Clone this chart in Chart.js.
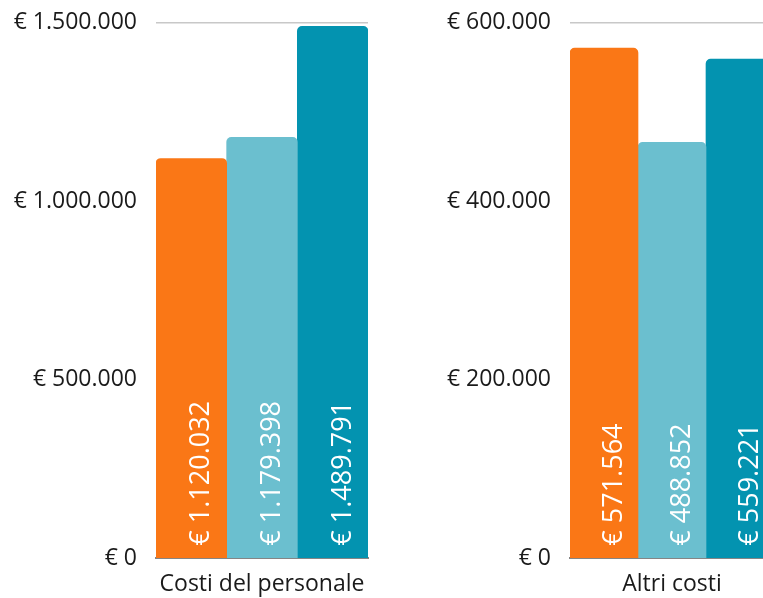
<!DOCTYPE html>
<html>
<head>
<meta charset="utf-8">
<script src="https://cdn.jsdelivr.net/npm/chart.js@4.4.1/dist/chart.umd.min.js"></script>
<style>
  html, body { margin: 0; padding: 0; background: #ffffff; }
  body { width: 763px; height: 598px; overflow: hidden; position: relative; }
  .panel { position: absolute; top: -10px; height: 612px; }
  #p1 { left: 0; width: 380px; }
  #p2 { left: 400px; width: 380px; }
</style>
</head>
<body>
<div class="panel" id="p1"><canvas id="c1" width="380" height="612"></canvas></div>
<div class="panel" id="p2"><canvas id="c2" width="380" height="612"></canvas></div>
<script>
// ---- data ----
const seriesNames = ['Serie 1', 'Serie 2', 'Serie 3'];
const seriesColors = ['#FA7716', '#6BBFCF', '#0393B0'];

const categoriesLeft = ['Costi del personale'];
const valuesLeft = [1120032, 1179398, 1489791];
const valueLabelsLeft = ['€ 1.120.032', '€ 1.179.398', '€ 1.489.791'];
const ticksLeft = [0, 500000, 1000000, 1500000];

const categoriesRight = ['Altri costi'];
const valuesRight = [571564, 466000, 559221];
const valueLabelsRight = ['€ 571.564', '€ 488.852', '€ 559.221'];
const ticksRight = [0, 200000, 400000, 600000];

// ---- helpers ----
function euro(v) {
  return '€ ' + String(Math.round(v)).replace(/\B(?=(\d{3})+(?!\d))/g, '.');
}

const barLabelPlugin = {
  id: 'barLabels',
  afterDatasetsDraw(chart, args, opts) {
    const ctx = chart.ctx;
    chart.data.datasets.forEach((ds, i) => {
      const meta = chart.getDatasetMeta(i);
      meta.data.forEach((el) => {
        ctx.save();
        ctx.translate(el.x + 18, el.base - 12);
        ctx.rotate(-Math.PI / 2);
        ctx.font = '400 27px "Open Sans"';
        ctx.fillStyle = '#ffffff';
        ctx.textAlign = 'left';
        ctx.textBaseline = 'alphabetic';
        ctx.fillText(opts.labels[i], 0, 0);
        ctx.restore();
      });
    });
  }
};

function makeChart(id, categories, values, labels, ticks, axisWidth, padRight) {
  const maxV = ticks[ticks.length - 1];
  return new Chart(document.getElementById(id), {
    type: 'bar',
    data: {
      labels: categories,
      datasets: values.map((v, i) => ({
        label: seriesNames[i],
        data: [v],
        backgroundColor: seriesColors[i],
        borderRadius: { topLeft: 5, topRight: 5, bottomLeft: 0, bottomRight: 0 },
        borderSkipped: false,
        categoryPercentage: 1,
        barPercentage: 1
      }))
    },
    options: {
      responsive: false,
      animation: false,
      layout: { padding: { top: 13, right: padRight, bottom: 0, left: 0 } },
      plugins: {
        legend: { display: false },
        tooltip: { enabled: false },
        barLabels: { labels: labels }
      },
      scales: {
        x: {
          grid: { display: false },
          border: { display: true, color: '#858585', width: 2 },
          ticks: {
            color: '#1a1a1a',
            padding: 4,
            font: { family: '"Open Sans"', size: 23 }
          }
        },
        y: {
          min: 0,
          max: maxV,
          afterBuildTicks(scale) {
            scale.ticks = ticks.map(v => ({ value: v }));
          },
          afterFit(scale) { scale.width = axisWidth; },
          border: { display: false },
          grid: {
            drawTicks: false,
            lineWidth: 1.5,
            color: (c) => (c.tick && c.tick.value === maxV) ? '#c8c8c8' : 'rgba(0,0,0,0)'
          },
          ticks: {
            padding: 19,
            color: '#1a1a1a',
            font: { family: '"Open Sans"', size: 23 },
            callback: (v) => euro(v)
          }
        }
      }
    },
    plugins: [barLabelPlugin]
  });
}

makeChart('c1', categoriesLeft, valuesLeft, valueLabelsLeft, ticksLeft, 156, 12);
makeChart('c2', categoriesRight, valuesRight, valueLabelsRight, ticksRight, 170, 6);
</script>
</body>
</html>
